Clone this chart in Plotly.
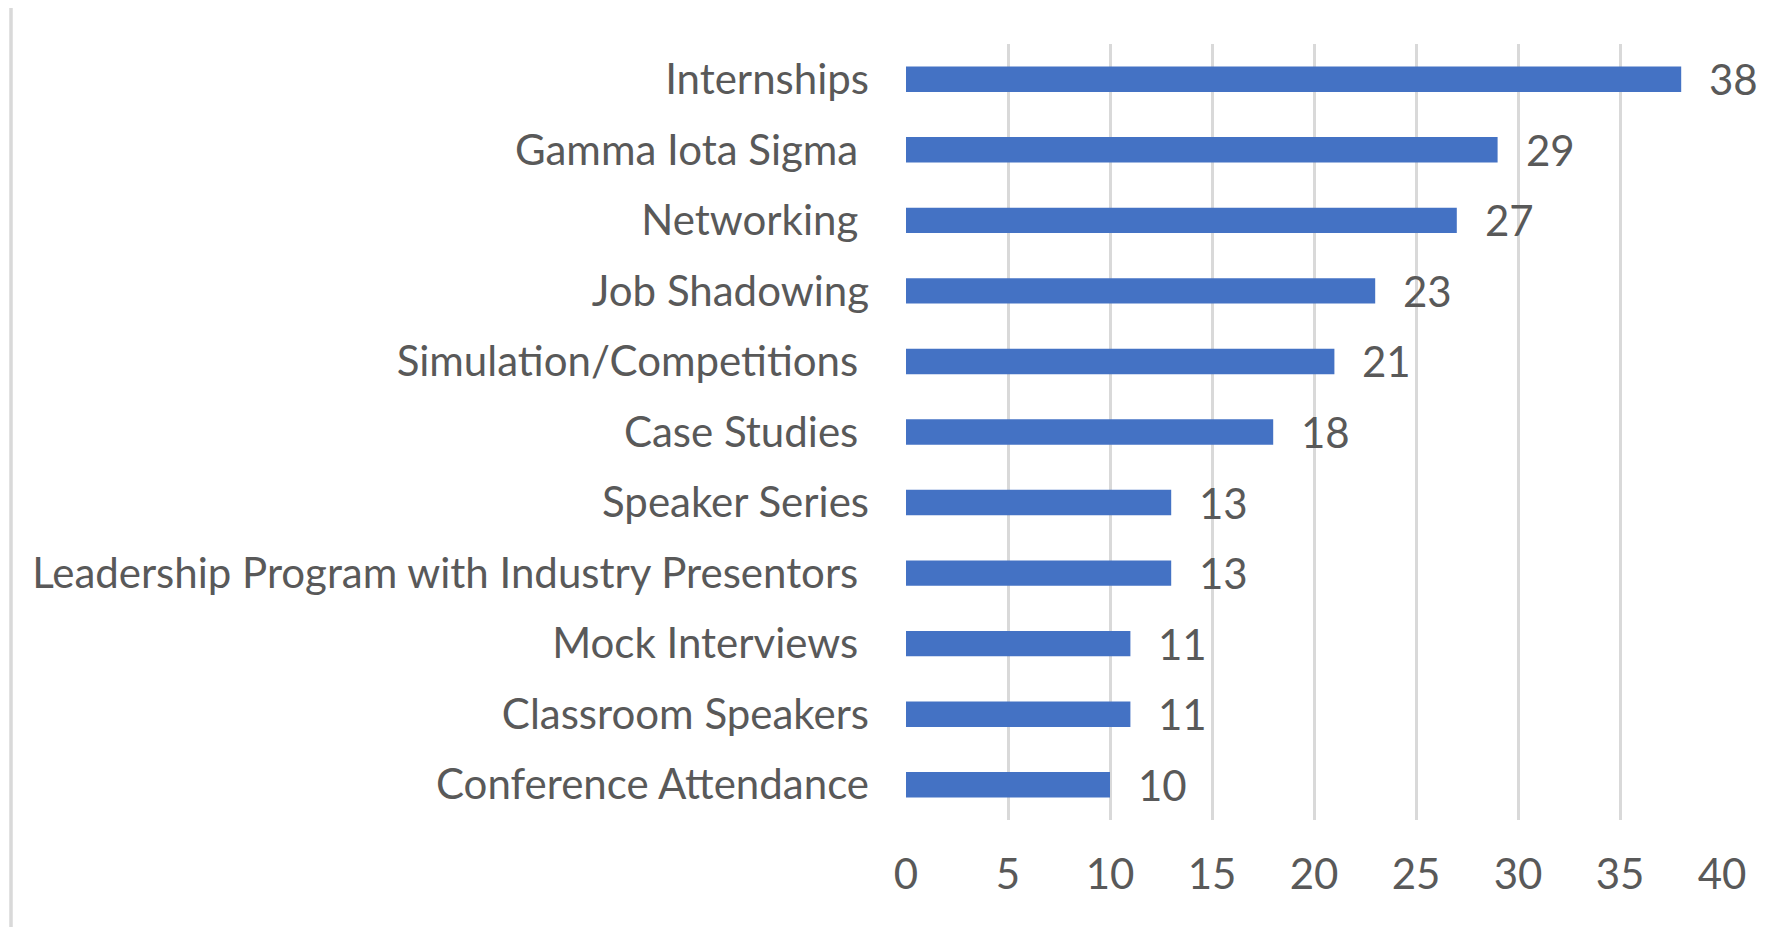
import plotly.graph_objects as go

categories = [
    "Internships",
    "Gamma Iota Sigma\u00a0",
    "Networking\u00a0",
    "Job Shadowing",
    "Simulation/Competitions\u00a0",
    "Case Studies\u00a0",
    "Speaker Series",
    "Leadership Program with Industry Presentors\u00a0",
    "Mock Interviews\u00a0",
    "Classroom Speakers",
    "Conference Attendance",
]
values = [38, 29, 27, 23, 21, 18, 13, 13, 11, 11, 10]
x_ticks = [0, 5, 10, 15, 20, 25, 30, 35, 40]

OFF = 8  # default page body margin
W, H = 1772 - OFF, 927 - OFF
ML, MR, MT, MB = 906 - OFF, 50, 44 - OFF, 107
FONT = "Lato"
FS = 42
GRAY = "#595959"

fig = go.Figure(go.Bar(
    x=values, y=categories, orientation="h",
    marker=dict(color="#4472C4", line=dict(width=0)),
    hoverinfo="x+y",
))

for c, v in zip(categories, values):
    fig.add_annotation(x=v, y=c, text=str(v), showarrow=False,
                       xanchor="left", yanchor="middle", xshift=26,
                       font=dict(family=FONT, size=FS, color=GRAY))

pw = W - ML - MR
ph = H - MT - MB
bx = 11 - OFF
fig.add_shape(type="line", xref="paper", yref="paper",
              x0=(bx - ML) / pw, x1=(bx - ML) / pw,
              y0=(H - MB - 0) / ph, y1=(H - MB - H) / ph,
              line=dict(color="#d9d9d9", width=3.5))

fig.update_layout(
    width=W, height=H,
    margin=dict(l=ML, r=MR, t=MT, b=MB, pad=0),
    paper_bgcolor="white", plot_bgcolor="white",
    bargap=0.64,
    showlegend=False,
    font=dict(family=FONT, size=FS, color=GRAY),
    xaxis=dict(range=[0, 40], tickvals=x_ticks, showgrid=True,
               gridcolor="#d9d9d9", gridwidth=3, zeroline=False,
               showline=False, ticks="", ticklabelstandoff=26,
               tickfont=dict(family=FONT, size=FS, color=GRAY)),
    yaxis=dict(autorange="reversed", showgrid=False, zeroline=False,
               showline=False, ticks="", ticklabelstandoff=36,
               tickfont=dict(family=FONT, size=FS, color=GRAY)),
)

fig.write_html("out.html")
